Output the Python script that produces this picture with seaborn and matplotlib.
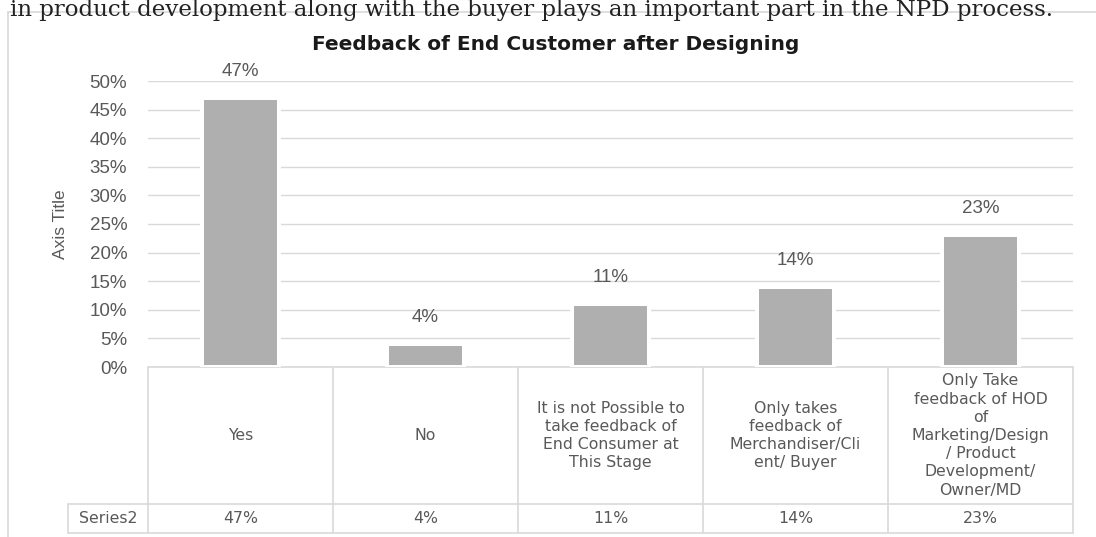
import matplotlib
matplotlib.use("Agg")
import matplotlib.pyplot as plt
import matplotlib.transforms as mtransforms
from matplotlib.ticker import FuncFormatter
import seaborn as sns
import pandas as pd

# dados do gráfico
categorias = [
    "Yes",
    "No",
    "It is not Possible to\ntake feedback of\nEnd Consumer at\nThis Stage",
    "Only takes\nfeedback of\nMerchandiser/Cli\nent/ Buyer",
    "Only Take\nfeedback of HOD\nof\nMarketing/Design\n/ Product\nDevelopment/\nOwner/MD",
]
valores = [47, 4, 11, 14, 23]
nome_serie = "Series2"
yticks = [0, 5, 10, 15, 20, 25, 30, 35, 40, 45, 50]

titulo = "Feedback of End Customer after Designing"
texto_topo = "in product development along with the buyer plays an important part in the NPD process."

W, H = 1096, 537
cinza_txt = "#595959"
cinza_linha = "#d9d9d9"
cor_barra = "#afafaf"

sns.set_theme(style="white")
plt.rcParams["font.family"] = ["Liberation Sans", "DejaVu Sans"]

fig = plt.figure(figsize=(W / 100, H / 100), dpi=100)
fig.patch.set_facecolor("white")

# área do gráfico em pixels: x 148..1073, y 81..367
ax = fig.add_axes([148 / W, 1 - 367 / H, 925 / W, (367 - 81) / H])

df = pd.DataFrame({"categoria": categorias, "valor": valores})
sns.barplot(data=df, x="categoria", y="valor", color=cor_barra, width=0.42,
            saturation=1, edgecolor="white", linewidth=2.9, ax=ax, zorder=3)

ax.set_xlim(-0.5, len(categorias) - 0.5)
ax.set_ylim(0, 50)
ax.set_yticks(yticks)
ax.yaxis.set_major_formatter(FuncFormatter(lambda v, p: f"{v:.0f}%"))
ax.tick_params(axis="y", labelsize=13.5, colors=cinza_txt, length=0, pad=15)
ax.set_xticks([])
ax.set_xlabel("")
ax.set_ylabel("Axis Title", fontsize=12.5, color=cinza_txt,
              family=["Liberation Sans Narrow", "Liberation Sans", "DejaVu Sans"])
ax.yaxis.set_label_coords(-(148 - 68) / 925, 0.5)
for s in ax.spines.values():
    s.set_visible(False)
ax.grid(axis="y", color=cinza_linha, linewidth=1, zorder=0)
ax.set_axisbelow(True)

# rótulos de dados
ax.bar_label(ax.containers[0], labels=[f"{v}%" for v in valores], padding=13,
             fontsize=13.5, color=cinza_txt)

# tabela de dados abaixo do gráfico
trans = mtransforms.blended_transform_factory(ax.transData, ax.transAxes)
px = 367 - 81
y_topo = 0.0
y_meio = -(504 - 367) / px
y_base = -(533 - 367) / px
x_esq = -0.5 - 80 / 185
n = len(categorias)
lk = dict(color=cinza_linha, linewidth=1.2, transform=trans, clip_on=False, zorder=1)
ax.plot([-0.5, n - 0.5], [y_topo, y_topo], **lk)
ax.plot([x_esq, n - 0.5], [y_meio, y_meio], **lk)
ax.plot([x_esq, n - 0.5], [y_base, y_base], **lk)
ax.plot([x_esq, x_esq], [y_meio, y_base], **lk)
for i in range(n + 1):
    ax.plot([i - 0.5, i - 0.5], [y_topo, y_base], **lk)

fonte_tab = dict(fontsize=11.3, color=cinza_txt, transform=trans, ha="center",
                 clip_on=False, family=["DejaVu Sans"])
for i, (cat, v) in enumerate(zip(categorias, valores)):
    ax.text(i, (y_topo + y_meio) / 2, cat, va="center", linespacing=1.27, **fonte_tab)
    ax.text(i, (y_meio + y_base) / 2, f"{v}%", va="center", **fonte_tab)
ax.text((x_esq - 0.5) / 2, (y_meio + y_base) / 2, nome_serie, va="center", **fonte_tab)

# título
fig.text(556 / W, 1 - 44 / H, titulo, ha="center", va="center", fontsize=14.5,
         weight="bold", color="#1a1a1a", family=["DejaVu Sans"])

# texto do documento (cortado no topo) e bordas da página
fig.add_artist(plt.Line2D([8 / W, 1], [1 - 12 / H, 1 - 12 / H], color=cinza_linha,
                          linewidth=1.2, transform=fig.transFigure, zorder=0))
fig.add_artist(plt.Line2D([8 / W, 8 / W], [0, 1 - 12 / H], color=cinza_linha,
                          linewidth=1.2, transform=fig.transFigure, zorder=0))
fig.text(10 / W, 1 - 16 / H, texto_topo, ha="left", va="baseline", fontsize=16.5,
         color="#222222", family=["DejaVu Serif"], zorder=2)

fig.savefig("out.png", dpi=100)
